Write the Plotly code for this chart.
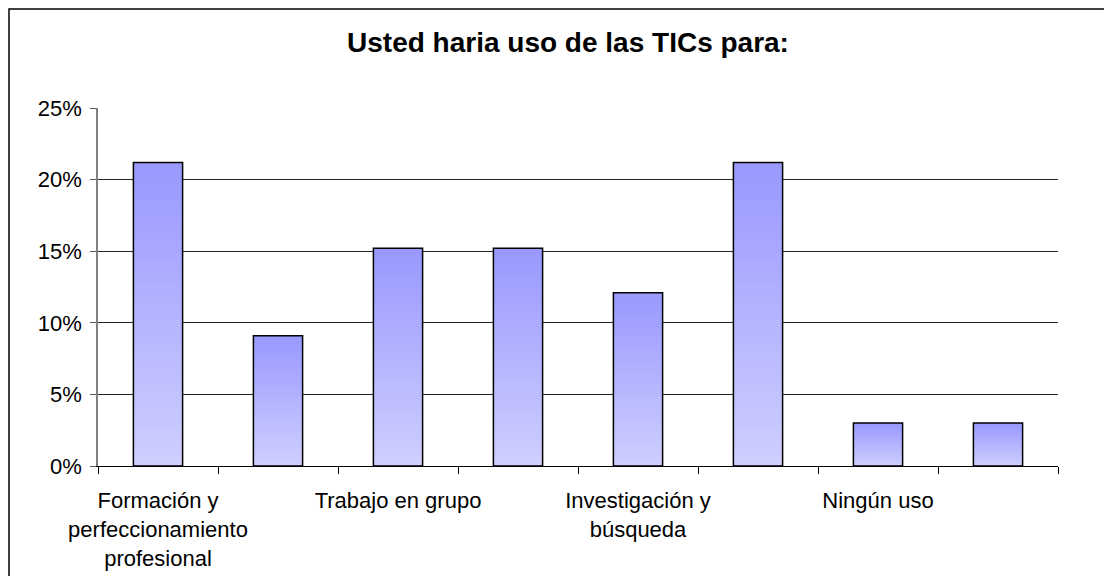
import plotly.graph_objects as go

# ---- data ----
categories = [
    "Formación y<br>perfeccionamiento<br>profesional", "",
    "Trabajo en grupo", "",
    "Investigación y<br>búsqueda", "",
    "Ningún uso", "",
]
values = [0.212, 0.091, 0.152, 0.152, 0.121, 0.212, 0.030, 0.030]
y_ticks = [0, 0.05, 0.10, 0.15, 0.20, 0.25]
title_text = "Usted haria uso de las TICs para:"

FONT = "Arial, Liberation Sans, sans-serif"
x_pos = list(range(len(values)))
label_pos = [i for i, c in enumerate(categories) if c]
label_txt = [c for c in categories if c]

dark = (153, 153, 255)
light = (206, 206, 255)
N = 40
BW = 0.41

fig = go.Figure()
for i in range(N):
    t = i / (N - 1)
    col = tuple(round(dark[k] + (light[k] - dark[k]) * t) for k in range(3))
    frac = 1 - i / N
    fig.add_trace(go.Bar(
        x=x_pos, y=[v * frac for v in values], width=BW,
        marker=dict(color="rgb(%d,%d,%d)" % col, line=dict(width=0)),
        showlegend=False, hoverinfo="skip",
    ))
fig.add_trace(go.Bar(
    x=x_pos, y=values, width=BW,
    marker=dict(color="rgba(0,0,0,0)", line=dict(color="black", width=1.5)),
    showlegend=False,
))

# page has an 8px body margin, so the figure is sized/offset to compensate
W, H = 1104, 568
L, T = 90, 100
pw, ph = 960, 358
R = W - L - pw
B = H - T - ph

fig.update_layout(
    width=W, height=H,
    margin=dict(l=L, r=R, t=T, b=B, autoexpand=False),
    barmode="overlay",
    paper_bgcolor="white", plot_bgcolor="white",
    font=dict(family=FONT, size=22, color="black"),
    title=dict(text="<b>%s</b>" % title_text, font=dict(size=28, family=FONT, color="black"),
               x=560 / W, xanchor="center", y=1 - 34 / H, yanchor="middle"),
    xaxis=dict(
        range=[-0.5, len(values) - 0.5], automargin=False,
        tickmode="array", tickvals=label_pos, ticktext=label_txt,
        ticks="", showgrid=False, zeroline=False,
        showline=True, linecolor="black", linewidth=1,
        ticklabelstandoff=15,
        minor=dict(tickmode="linear", tick0=-0.5, dtick=1, ticks="outside",
                   ticklen=7, tickcolor="black", tickwidth=1, showgrid=False),
    ),
    yaxis=dict(
        range=[0, 0.25], automargin=False,
        tickmode="array", tickvals=y_ticks, tickformat=".0%",
        ticks="outside", ticklen=6, tickcolor="#555", tickwidth=1,
        showgrid=True, gridcolor="#222", gridwidth=1,
        zeroline=False, showline=True, linecolor="#808080", linewidth=1.5,
        ticklabelstandoff=4,
    ),
    shapes=[dict(
        type="rect", xref="paper", yref="paper",
        x0=(1 - L) / pw, x1=(W + 20 - L) / pw,
        y0=(T + ph - (H + 20)) / ph, y1=(T + ph - 1) / ph,
        line=dict(color="black", width=1.5), fillcolor="rgba(0,0,0,0)", layer="below",
    )],
)

fig.write_html("out.html")
